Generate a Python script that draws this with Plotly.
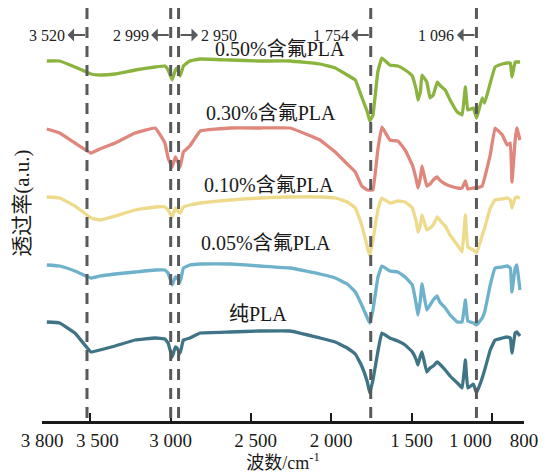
import plotly.graph_objects as go

# Wavenumber sampling points (cm^-1), shared by all spectra
wavenumber = [3770, 3690, 3595, 3495, 3440, 3345, 3220, 3095, 3035, 3015,
              2990, 2970, 2960, 2940, 2920, 2880, 2815, 2630, 2445, 2255,
              2070, 1975, 1900, 1850, 1810, 1775, 1760, 1740, 1710, 1685,
              1635, 1585, 1540, 1495, 1470, 1460, 1445, 1435, 1405, 1385,
              1365, 1340, 1325, 1290, 1260, 1215, 1185, 1165, 1150, 1115,
              1095, 1060, 1045, 1010, 980, 935, 905, 885, 875, 855, 845, 825]

# Transmittance (a.u., stacked)
pla_050 = [360, 360, 354, 347, 346, 347, 351, 354, 355, 351,
           341, 351, 353, 345, 355, 360, 362, 361, 360, 360,
           357, 353, 346, 341, 324, 309, 300, 306, 349, 363,
           356, 355, 351, 345, 331, 321, 329, 346, 339, 323,
           326, 339, 336, 331, 321, 309, 306, 334, 311, 313,
           303, 323, 318, 338, 354, 357, 358, 358, 344, 359, 359, 359]

pla_030 = [292, 288, 278, 268, 272, 278, 288, 293, 278, 263,
           254, 264, 261, 254, 269, 275, 290, 293, 293, 293,
           281, 269, 257, 249, 235, 231, 231, 231, 271, 294,
           281, 280, 271, 256, 241, 233, 243, 255, 235, 237,
           241, 244, 241, 237, 235, 233, 233, 240, 232, 233,
           233, 235, 243, 266, 293, 286, 276, 278, 239, 281, 293, 281]

pla_010 = [224, 223, 215, 203, 201, 205, 211, 214, 214, 211,
           204, 213, 211, 208, 214, 216, 218, 221, 223, 224,
           224, 223, 219, 213, 196, 174, 165, 181, 211, 223,
           218, 220, 219, 213, 199, 189, 196, 206, 191, 193,
           196, 204, 201, 195, 186, 176, 169, 206, 174, 171,
           168, 186, 193, 213, 221, 222, 223, 221, 213, 223, 224, 223]

pla_005 = [156, 155, 150, 143, 145, 147, 149, 151, 151, 148,
           136, 144, 143, 139, 153, 156, 157, 157, 155, 153,
           147, 143, 137, 129, 116, 103, 98, 111, 143, 155,
           150, 149, 144, 136, 116, 106, 121, 137, 111, 116,
           121, 125, 119, 113, 106, 99, 99, 121, 100, 98,
           96, 103, 109, 136, 153, 154, 155, 153, 129, 153, 156, 131]

pla_pure = [99, 98, 88, 69, 71, 75, 81, 83, 82, 78,
            64, 74, 73, 68, 81, 83, 88, 89, 90, 90,
            83, 79, 73, 67, 55, 39, 28, 41, 69, 88,
            83, 80, 76, 69, 61, 56, 65, 69, 49, 53,
            55, 59, 57, 51, 45, 38, 33, 61, 33, 37,
            28, 43, 51, 71, 81, 83, 84, 83, 68, 88, 89, 85]

series_names = ["0.50%含氟PLA", "0.30%含氟PLA", "0.10%含氟PLA", "0.05%含氟PLA", "纯PLA"]
series_values = [pla_050, pla_030, pla_010, pla_005, pla_pure]
series_colors = ["#8BB43F", "#E0877D", "#EDDA8A", "#6DB1CA", "#3E7486"]

# Characteristic band positions (cm^-1) and the side the label sits on
band_positions = [3520, 2999, 2950, 1754, 1096]
band_labels = ["3 520", "2 999", "2 950", "1 754", "1 096"]
band_sides = [-1, -1, 1, -1, -1]

NBSP = "\u00a0"
tick_values = [3800, 3500, 3000, 2500, 2000, 1500, 1000, 800]
# padding nudges crowded labels off their neighbours
tick_labels = ["3 800", NBSP * 3 + "3 500", "3 000", NBSP * 2 + "2 500",
               "2 000", "1 500", "1 000" + NBSP * 9, "800"]

# Spectrum label anchor points (wavenumber, transmittance)
label_x = [2320, 2375, 2385, 2405, 2455]
label_y = [372, 308, 236, 178, 107]

FONT = "Liberation Serif, Noto Sans CJK SC, serif"
GRAY = "#58595b"

fig = go.Figure()

for name, vals, col in zip(series_names, series_values, series_colors):
    fig.add_trace(go.Scatter(
        x=wavenumber, y=vals, mode="lines", name=name,
        line=dict(color=col, width=3.3, shape="spline", smoothing=0.25),
        showlegend=False, hoverinfo="skip"))

shapes = []
for pos in band_positions:
    shapes.append(dict(type="line", xref="x", yref="paper",
                       x0=pos, x1=pos, y0=1, y1=0,
                       line=dict(color=GRAY, width=3, dash="11px,8px")))

annotations = []
for pos, lab, side in zip(band_positions, band_labels, band_sides):
    annotations.append(dict(
        x=pos, y=386, xref="x", yref="y", text=lab,
        showarrow=True, ax=side * 40, ay=0, axref="pixel", ayref="pixel",
        arrowside="start", arrowhead=2, arrowsize=1, arrowwidth=2.2,
        arrowcolor=GRAY, standoff=2, startstandoff=1,
        font=dict(family=FONT, size=16, color="#222")))

for name, lx, ly in zip(series_names, label_x, label_y):
    annotations.append(dict(
        x=lx, y=ly, xref="x", yref="y", text=name, showarrow=False,
        font=dict(family=FONT, size=20, color="#1a1a1a")))

# y-axis title
annotations.append(dict(
    x=-0.042, y=0.528, xref="paper", yref="paper", text="透过率(a.u.)",
    textangle=-90, showarrow=False, xanchor="center", yanchor="middle",
    font=dict(family=FONT, size=21, color="#1a1a1a")))

fig.update_layout(
    width=554, height=473,
    margin=dict(l=42, r=30, t=8, b=52, autoexpand=False),
    paper_bgcolor="white", plot_bgcolor="white",
    shapes=shapes, annotations=annotations,
    font=dict(family=FONT, color="#1a1a1a"),
    xaxis=dict(
        range=[3800, 800], showgrid=False, zeroline=False, automargin=False,
        showline=True, linecolor="#1a1a1a", linewidth=2.5,
        ticks="inside", ticklen=8, tickwidth=2, tickcolor="#1a1a1a",
        tickvals=tick_values, ticktext=tick_labels, tickangle=0,
        tickfont=dict(family=FONT, size=19, color="#1a1a1a"),
        title=dict(text="波数/cm<sup>-1</sup>", standoff=2,
                   font=dict(family=FONT, size=18, color="#1a1a1a"))),
    yaxis=dict(
        range=[0, 413], showgrid=False, zeroline=False, showline=False,
        showticklabels=False, ticks="", automargin=False),
)

fig.write_html("out.html")
